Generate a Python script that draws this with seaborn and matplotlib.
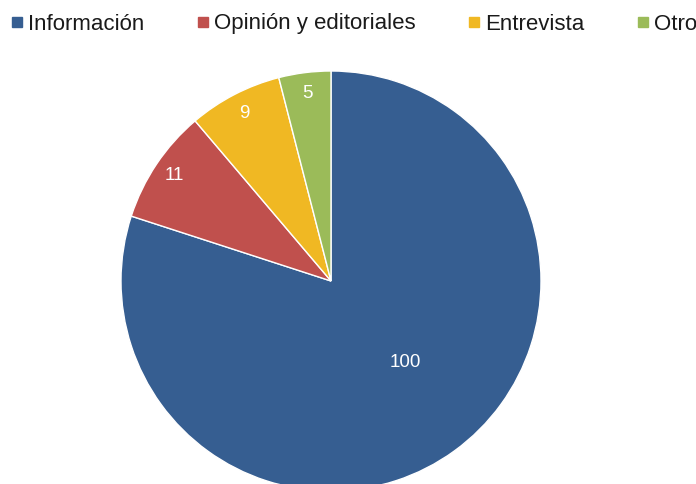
import matplotlib
matplotlib.use("Agg")
import matplotlib.pyplot as plt
from matplotlib.lines import Line2D
import numpy as np
import seaborn as sns

categories = ["Información", "Opinión y editoriales", "Entrevista", "Otro"]
values = [100, 11, 9, 5]
colors = ["#365E91", "#C0504D", "#F0B823", "#9BBB59"]

sns.set_theme(style="white")
plt.rcParams["font.family"] = ["Liberation Sans", "DejaVu Sans"]
palette = sns.color_palette(colors)

W, H = 696, 484
fig = plt.figure(figsize=(W / 100, H / 100), dpi=100)
ax = fig.add_axes([0, 0, 1, 1])

cx, cy, r = 331, 281, 210
wedges, texts, autotexts = ax.pie(
    values,
    colors=palette,
    startangle=90,
    counterclock=False,
    radius=1,
    autopct=lambda p: f"{p * sum(values) / 100:.0f}",
    pctdistance=0.9,
    wedgeprops=dict(edgecolor="white", linewidth=1),
    textprops=dict(color="white", fontsize=13.5),
)

# the large slice carries its label closer to the centre
ang = np.deg2rad(-47.6)
autotexts[0].set_position((0.525 * np.cos(ang), 0.525 * np.sin(ang)))

ax.set_xlim(-cx / r, (W - cx) / r)
ax.set_ylim(-(H - cy) / r, cy / r)
ax.set_aspect("auto")
ax.axis("off")

handles = [Line2D([], [], marker="s", linestyle="none", markersize=7.2,
                  markerfacecolor=c, markeredgecolor=c) for c in palette]
fig.legend(handles, categories, loc="upper left",
           bbox_to_anchor=(9.2 / W, 1 - 13.5 / H),
           ncol=4, frameon=False, fontsize=16, handlelength=0.7,
           handletextpad=0.14, columnspacing=2.29, borderaxespad=0,
           borderpad=0, labelcolor="#1a1a1a")

fig.savefig("out.png", dpi=100)
